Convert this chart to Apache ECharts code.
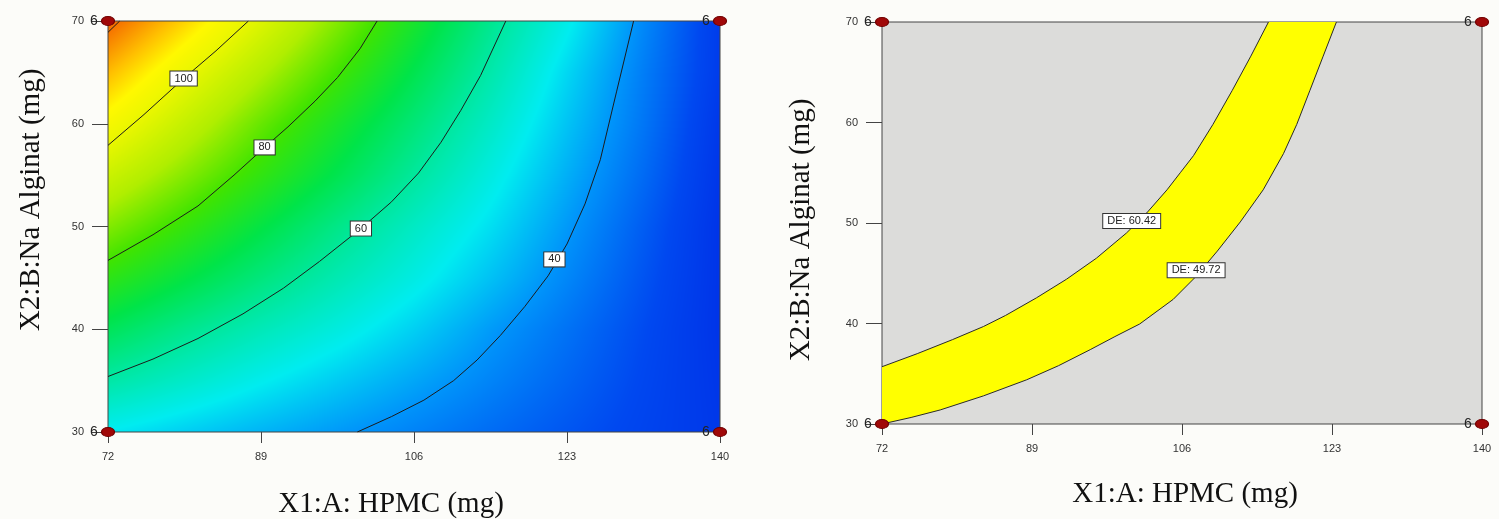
<!DOCTYPE html>
<html>
<head>
<meta charset="utf-8">
<title>DE contour and overlay plots</title>
<script src="https://cdn.jsdelivr.net/npm/echarts@6/dist/echarts.min.js"></script>
<style>
  html, body { margin: 0; padding: 0; background: #fcfcf9; }
  #chart { width: 1499px; height: 519px; }
</style>
</head>
<body>
<div id="chart"></div>
<script>
// ---- data -------------------------------------------------------------
// Response grid nodes: HPMC (mg) across, Na Alginat (mg) up
const hpmcNodes = [72, 80.5, 89, 97.5, 106, 114.5, 123, 131.5, 140];
const alginatNodes = [30, 35, 40, 45, 50, 55, 60, 65, 70];
// DE at each node, one row per Na Alginat level (30 at the bottom, 70 at the top)
const deRow30 = [49.7, 46.6, 43.6, 40.6, 37.7, 34.7, 31.8, 28.9, 26.0];
const deRow35 = [59.3, 54.9, 50.4, 46.2, 42.1, 37.9, 33.8, 29.6, 25.5];
const deRow40 = [68.2, 62.3, 57.1, 52.2, 46.8, 40.8, 35.6, 30.3, 25.0];
const deRow45 = [77.1, 70.6, 64.1, 57.7, 51.7, 45.1, 38.3, 31.5, 25.0];
const deRow50 = [85.9, 78.3, 70.5, 62.7, 55.5, 48.5, 40.6, 32.7, 25.0];
const deRow55 = [94.8, 86.2, 77.7, 69.1, 60.5, 51.9, 43.1, 34.5, 25.5];
const deRow60 = [103.8, 93.5, 83.4, 73.9, 64.7, 55.2, 45.4, 36.0, 26.0];
const deRow65 = [112.7, 101.2, 90.6, 80.0, 69.4, 58.7, 47.7, 37.0, 27.0];
const deRow70 = [122.0, 110.0, 98.0, 86.0, 74.0, 62.0, 51.0, 38.5, 27.0];

// Contour lines of DE, as [HPMC, Na Alginat] points
const contour120 = [[72, 68.9], [73.3, 70]];
const contour100 = [[72, 57.9], [76, 60.9], [80.4, 64.4], [84, 67.1], [87.6, 70]];
const contour80 = [[72, 46.7], [77, 49.2], [82, 52.0], [86, 55.0], [89.4, 57.7], [92, 59.7], [95, 62.2],
                   [97.5, 64.5], [100, 67.3], [101.9, 70]];
const contour60 = [[72, 35.4], [77, 37.1], [82, 39.1], [87, 41.5], [91.5, 44.0], [95.5, 46.6], [100.1, 49.8], [103.5, 52.4],
                   [106.5, 55.2], [109, 58.2], [111.2, 61.3], [113.4, 64.7], [116.2, 70]];
const contour40 = [[99.7, 30], [103.5, 31.5], [107.1, 33.1], [110.4, 35.0], [113, 37.0], [115.6, 39.4], [118.3, 42.2],
                   [120.9, 45.2], [123, 48.3], [125, 52.2], [126.7, 56.5], [128.5, 63.1], [130.4, 70]];
const contourLevels = [120, 100, 80, 60, 40];
// Where each labelled contour carries its value box
const contourLabelAt = [[80.4, 64.4, 100], [89.4, 57.7, 80], [100.1, 49.8, 60], [121.6, 46.8, 40]];

// Overlay plot: the DE window between two contours
const overlayHigh = [[72, 35.7], [76, 37.0], [80, 38.4], [83.5, 39.7], [86, 40.8], [89.5, 42.55], [92.9, 44.4], [96.3, 46.5],
                     [99.7, 49.0], [102, 51.0], [104.3, 53.3], [105.8, 55.0], [107.3, 56.7], [109.5, 59.8], [111.7, 63.2],
                     [113.8, 66.6], [115.8, 70]];
const overlayLow = [[72, 30], [75.3, 30.65], [78.6, 31.4], [83.5, 32.8], [88.4, 34.4], [92, 35.8], [95.6, 37.4], [98.4, 38.7],
                    [101.2, 39.95], [105, 42.4], [107.5, 44.6], [110, 47.2], [112.6, 50.1], [115.2, 53.3], [117.5, 56.9],
                    [119, 59.8], [120.5, 63.2], [122, 66.6], [123.5, 70]];
const overlayLevels = [60.42, 49.72];
const overlayLabelAt = [[100.3, 50.2, 60.42], [107.6, 45.3, 49.72]];

// Axis ticks
const xTicks = [72, 89, 106, 123, 140];
const yTicks = [30, 40, 50, 60, 70];

// Design points and their replicate counts
const designPoints = [[72, 70], [140, 70], [72, 30], [140, 30]];
const designRuns = [6, 6, 6, 6];

// ---- colour ramp for DE (blue = low, red = high) ------------------------
const deRamp = [
  [20, '#0020e0'], [30, '#0048f0'], [40, '#0094fa'], [50, '#00ecf0'], [60, '#00e8a0'],
  [70, '#00e448'], [80, '#40e400'], [90, '#b0ee00'], [100, '#e8f600'], [106, '#fff800'],
  [112, '#ffc000'], [120, '#f67400'], [130, '#ec4800']
];
const rampRgb = deRamp.map(([v, c]) => [v, [parseInt(c.slice(1, 3), 16), parseInt(c.slice(3, 5), 16), parseInt(c.slice(5, 7), 16)]]);
function deColor(v) {
  if (v <= rampRgb[0][0]) return rampRgb[0][1];
  for (let k = 1; k < rampRgb.length; k++) {
    if (v <= rampRgb[k][0]) {
      const [a, ca] = rampRgb[k - 1], [b, cb] = rampRgb[k];
      const t = (v - a) / (b - a);
      return [ca[0] + (cb[0] - ca[0]) * t, ca[1] + (cb[1] - ca[1]) * t, ca[2] + (cb[2] - ca[2]) * t];
    }
  }
  return rampRgb[rampRgb.length - 1][1];
}

// ---- build series inputs -------------------------------------------------
const deRows = [deRow30, deRow35, deRow40, deRow45, deRow50, deRow55, deRow60, deRow65, deRow70];
const fieldCells = [];
for (let j = 0; j < alginatNodes.length - 1; j++) {
  for (let i = 0; i < hpmcNodes.length - 1; i++) {
    fieldCells.push([hpmcNodes[i], alginatNodes[j], hpmcNodes[i + 1], alginatNodes[j + 1],
      deRows[j][i], deRows[j][i + 1], deRows[j + 1][i], deRows[j + 1][i + 1]]);
  }
}
const contourSets = [contour120, contour100, contour80, contour60, contour40];

// Shade one grid cell, blending the DE values of its four corners
function renderCell(params, api) {
  const bl = api.coord([api.value(0), api.value(1)]);
  const tr = api.coord([api.value(2), api.value(3)]);
  const v00 = api.value(4), v10 = api.value(5), v01 = api.value(6), v11 = api.value(7);
  const left = Math.round(bl[0]), right = Math.round(tr[0]);
  const top = Math.round(tr[1]), bottom = Math.round(bl[1]);
  const w = Math.max(1, right - left), h = Math.max(1, bottom - top);
  const cv = document.createElement('canvas');
  cv.width = w; cv.height = h;
  const ctx = cv.getContext('2d');
  const img = ctx.createImageData(w, h);
  for (let py = 0; py < h; py++) {
    const t = 1 - (py + 0.5) / h;
    for (let px = 0; px < w; px++) {
      const u = (px + 0.5) / w;
      const v = v00 * (1 - u) * (1 - t) + v10 * u * (1 - t) + v01 * (1 - u) * t + v11 * u * t;
      const c = deColor(v);
      const o = (py * w + px) * 4;
      img.data[o] = c[0]; img.data[o + 1] = c[1]; img.data[o + 2] = c[2]; img.data[o + 3] = 255;
    }
  }
  ctx.putImageData(img, 0, 0);
  return { type: 'image', style: { image: cv, x: left, y: top, width: w, height: h } };
}

// Yellow window between the two overlay contours
function renderBand(params, api) {
  const pts = overlayHigh.map(p => api.coord(p))
    .concat(overlayLow.slice().reverse().map(p => api.coord(p)));
  return { type: 'polygon', shape: { points: pts }, style: { fill: '#ffff00', stroke: null } };
}

const tickFont = { fontFamily: 'Liberation Sans', fontSize: 11, color: '#333' };
const labelBox = {
  show: true, position: 'inside', fontFamily: 'Liberation Sans', fontSize: 11, color: '#222',
  backgroundColor: '#ffffff', borderColor: '#333', borderWidth: 1, padding: [2, 4, 1, 4]
};

function xAxisFor(gridIndex) {
  return {
    type: 'value', gridIndex, min: 72, max: 140,
    axisLine: { show: false },
    axisTick: { show: true, length: 11, customValues: xTicks, lineStyle: { color: '#444' } },
    axisLabel: Object.assign({ margin: 19, customValues: xTicks }, tickFont),
    splitLine: { show: false }
  };
}
function yAxisFor(gridIndex) {
  return {
    type: 'value', gridIndex, min: yTicks[0], max: yTicks[yTicks.length - 1], interval: 10,
    axisLine: { show: false },
    axisTick: { show: true, length: 16, lineStyle: { color: '#444' } },
    axisLabel: Object.assign({ margin: 24 }, tickFont),
    splitLine: { show: false }
  };
}
function designSeries(idx) {
  return {
    type: 'scatter', xAxisIndex: idx, yAxisIndex: idx, z: 6, clip: false, silent: true,
    data: designPoints.map((p, k) => [p[0], p[1], designRuns[k]]),
    symbol: 'circle', symbolSize: [13, 9],
    itemStyle: { color: '#a00808', borderColor: '#700000', borderWidth: 1, opacity: 1 },
    label: { show: true, position: 'left', distance: 3, formatter: p => String(p.value[2]),
             fontFamily: 'Liberation Sans', fontSize: 14, color: '#222' }
  };
}
function labelSeries(idx, data, fmt) {
  return {
    type: 'scatter', xAxisIndex: idx, yAxisIndex: idx, z: 4, silent: true,
    data, symbol: 'rect', symbolSize: 1, itemStyle: { color: 'rgba(0,0,0,0)', opacity: 1 },
    label: Object.assign({ formatter: fmt }, labelBox)
  };
}

const series = [
  { type: 'custom', xAxisIndex: 0, yAxisIndex: 0, z: -1, silent: true, clip: true,
    renderItem: renderCell, encode: { x: [0, 2], y: [1, 3] }, data: fieldCells }
];
contourSets.forEach((pts, k) => {
  series.push({
    type: 'line', name: 'DE ' + contourLevels[k], xAxisIndex: 0, yAxisIndex: 0, z: 3, silent: true,
    data: pts, showSymbol: false, smooth: false,
    lineStyle: { color: '#1c1c1c', width: 1 }
  });
});
series.push(labelSeries(0, contourLabelAt, p => String(p.value[2])));
series.push(designSeries(0));

series.push({ type: 'custom', xAxisIndex: 1, yAxisIndex: 1, z: 1, silent: true, clip: true,
  renderItem: renderBand, data: [overlayLevels] });
[overlayHigh, overlayLow].forEach((pts, k) => {
  series.push({
    type: 'line', name: 'DE ' + overlayLevels[k], xAxisIndex: 1, yAxisIndex: 1, z: 3, silent: true,
    data: pts, showSymbol: false, smooth: false,
    lineStyle: { color: '#2a2a2a', width: 1 }
  });
});
series.push(labelSeries(1, overlayLabelAt, p => 'DE: ' + p.value[2].toFixed(2)));
series.push(designSeries(1));

const titleFont = { fontFamily: 'Liberation Serif', fontSize: 29, fill: '#111', align: 'center', verticalAlign: 'middle' };

const chart = echarts.init(document.getElementById('chart'));
chart.setOption({
  backgroundColor: '#fcfcf9',
  animation: false,
  grid: [
    { left: 108, top: 21, width: 612, height: 411, show: true, backgroundColor: 'transparent', borderColor: '#444', borderWidth: 1 },
    { left: 882, top: 22, width: 600, height: 402, show: true, backgroundColor: '#dcdcda', borderColor: '#444', borderWidth: 1 }
  ],
  xAxis: [xAxisFor(0), xAxisFor(1)],
  yAxis: [yAxisFor(0), yAxisFor(1)],
  graphic: [
    { type: 'text', x: 391, y: 504, silent: true, style: Object.assign({ text: 'X1:A: HPMC (mg)' }, titleFont) },
    { type: 'text', x: 31, y: 200, rotation: Math.PI / 2, silent: true, style: Object.assign({ text: 'X2:B:Na Alginat (mg)' }, titleFont) },
    { type: 'text', x: 1185, y: 494, silent: true, style: Object.assign({ text: 'X1:A: HPMC (mg)' }, titleFont) },
    { type: 'text', x: 801, y: 230, rotation: Math.PI / 2, silent: true, style: Object.assign({ text: 'X2:B:Na Alginat (mg)' }, titleFont) }
  ],
  series
});
</script>
</body>
</html>
